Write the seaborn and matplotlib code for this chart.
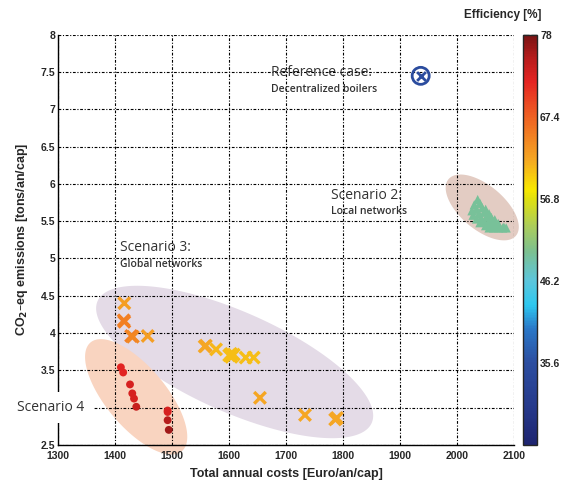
import numpy as np
import pandas as pd
import matplotlib
matplotlib.use('Agg')
import matplotlib.pyplot as plt
import seaborn as sns
from matplotlib.colors import LinearSegmentedColormap, Normalize
from matplotlib.patches import Polygon

# 데이터
ref_cost = [1936]
ref_co2 = [7.45]
ref_eff = [35.0]

s2_cost = [2036, 2030, 2040, 2026, 2034, 2044, 2050, 2028, 2038, 2048, 2056, 2034, 2042,
           2052, 2060, 2066, 2040, 2048, 2056, 2064, 2072, 2050, 2058, 2066, 2074, 2082,
           2056, 2064, 2072, 2080, 2086]
s2_co2 = [5.79, 5.72, 5.74, 5.64, 5.66, 5.68, 5.66, 5.58, 5.60, 5.62, 5.60, 5.53, 5.55,
          5.56, 5.55, 5.52, 5.48, 5.50, 5.50, 5.49, 5.47, 5.44, 5.45, 5.44, 5.43, 5.42,
          5.41, 5.41, 5.41, 5.41, 5.41]
s2_eff = [49.5] * len(s2_cost)

s3_cost = [1416, 1415, 1416, 1428, 1431, 1457, 1557, 1559, 1577, 1600, 1604, 1608, 1603,
           1629, 1643, 1654, 1733, 1786, 1789]
s3_co2 = [4.40, 4.17, 4.15, 3.96, 3.95, 3.96, 3.82, 3.83, 3.78, 3.70, 3.68, 3.71, 3.72,
          3.67, 3.67, 3.13, 2.90, 2.84, 2.86]
s3_eff = [62.5, 65, 65, 65, 64.5, 62.5, 62, 62, 61, 60.5, 60.5, 60.5, 60.5,
          60.5, 60.5, 62, 62, 62, 62]

s4_cost = [1410, 1414, 1426, 1430, 1433, 1437, 1492, 1492, 1492, 1494]
s4_co2 = [3.54, 3.47, 3.31, 3.19, 3.12, 3.01, 2.96, 2.94, 2.83, 2.70]
s4_eff = [72, 72, 73, 73, 73, 74, 73, 73, 75, 76]

eff_min, eff_max = 25, 78
cbar_ticks = [35.6, 46.2, 56.8, 67.4, 78]

x_ticks = [1300, 1400, 1500, 1600, 1700, 1800, 1900, 2000, 2100]
y_ticks = [2.5, 3, 3.5, 4, 4.5, 5, 5.5, 6, 6.5, 7, 7.5, 8]
# '3' 라벨은 Scenario 4 글자에 가려져 안 보임
y_ticklabels = ['2.5', '', '3.5', '4', '4.5', '5', '5.5', '6', '6.5', '7', '7.5', '8']

# 컬러맵 (jet 비슷하게, 조금 탁하게)
stops = [(25, '#1e2470'), (30, '#263a8c'), (35.6, '#2c4ea0'), (40, '#2a78c8'),
         (43, '#2ec8f0'), (46.2, '#5cc6dc'), (50, '#7cc090'), (53, '#a8cc60'),
         (56.8, '#e0e010'), (58, '#f8e800'), (62, '#f5a623'), (67.4, '#ef6223'),
         (72, '#e52422'), (75, '#b81c1c'), (78, '#7a1414')]
cmap = LinearSegmentedColormap.from_list(
    'eff', [((v - eff_min) / (eff_max - eff_min), c) for v, c in stops])
norm = Normalize(eff_min, eff_max)

sns.set_style('white')
plt.rcParams['font.family'] = ['Liberation Sans', 'DejaVu Sans']

fig = plt.figure(figsize=(5.65, 4.84), dpi=100)
ax = fig.add_axes([0.103, 0.081, 0.807, 0.847])
cax = fig.add_axes([0.926, 0.081, 0.025, 0.847])

W = 0.807 * 565
H = 0.847 * 484


def ellipse(cx, cy, a, b, ang, color):
    # 축 비율 좌표에 픽셀 단위 타원
    t = np.linspace(0, 2 * np.pi, 200)
    th = np.deg2rad(ang)
    px = a * np.cos(t) * np.cos(th) - b * np.sin(t) * np.sin(th)
    py = a * np.cos(t) * np.sin(th) + b * np.sin(t) * np.cos(th)
    pts = np.column_stack([cx + px / W, cy + py / H])
    ax.add_patch(Polygon(pts, closed=True, transform=ax.transAxes, facecolor=color,
                         edgecolor='none', zorder=0.3, clip_on=False))


ellipse(0.387, 0.202, 150, 50, -24, '#e4dbe7')
ellipse(0.171, 0.117, 71, 30, -50, '#f9d4c0')
ellipse(0.930, 0.579, 44, 22, -40, '#e3ccc3')

# 시나리오별 산점도
df2 = pd.DataFrame({'cost': s2_cost, 'co2': s2_co2, 'eff': s2_eff})
df3 = pd.DataFrame({'cost': s3_cost, 'co2': s3_co2, 'eff': s3_eff})
df4 = pd.DataFrame({'cost': s4_cost, 'co2': s4_co2, 'eff': s4_eff})
dfr = pd.DataFrame({'cost': ref_cost, 'co2': ref_co2, 'eff': ref_eff})

sns.scatterplot(data=df2, x='cost', y='co2', hue='eff', palette=cmap, hue_norm=norm,
                marker='^', s=45, edgecolor='none', legend=False, ax=ax, zorder=3)
sns.scatterplot(data=df3, x='cost', y='co2', hue='eff', palette=cmap, hue_norm=norm,
                marker='x', s=70, linewidth=2.4, legend=False, ax=ax, zorder=3)
sns.scatterplot(data=df4, x='cost', y='co2', hue='eff', palette=cmap, hue_norm=norm,
                marker='o', s=32, edgecolor='none', legend=False, ax=ax, zorder=3)
ref_col = cmap(norm(ref_eff[0]))
ax.scatter(dfr['cost'], dfr['co2'], s=150, facecolor='none', edgecolor=ref_col,
           linewidth=2, zorder=3)
ax.scatter(dfr['cost'], dfr['co2'], s=40, marker='x', color=ref_col, linewidth=2, zorder=3)

ax.set_xlim(1300, 2100)
ax.set_ylim(2.5, 8)
ax.set_xticks(x_ticks)
ax.set_yticks(y_ticks)
ax.set_yticklabels(y_ticklabels)
ax.tick_params(labelsize=7.5, length=3, width=0.8, direction='in', pad=2)
ax.tick_params(axis='x', pad=4.5)
for lab in ax.get_xticklabels() + ax.get_yticklabels():
    lab.set_fontweight('bold')
ax.grid(True, color='black', linestyle=(0, (2.5, 1.5, 1, 1.5)), linewidth=0.8)
ax.set_axisbelow('line')
for side in ['top', 'right']:
    ax.spines[side].set_visible(False)
for side in ['left', 'bottom']:
    ax.spines[side].set_color('black')
    ax.spines[side].set_linewidth(1)

ax.set_xlabel('Total annual costs [Euro/an/cap]', fontsize=9, fontweight='bold', labelpad=5)
ax.set_ylabel('CO$_\\mathbf{2}$\u2013eq emissions [tons/an/cap]', fontsize=9,
              fontweight='bold', labelpad=8)

# 주석
txt = dict(family=['Open Sans', 'DejaVu Sans'], color='#333333', va='center', ha='left')
ax.text(1673, 7.50, 'Reference case:', fontsize=10, **txt)
ax.text(1673, 7.27, 'Decentralized boilers', fontsize=7.5, fontweight='semibold', **txt)
ax.text(1778, 5.85, 'Scenario 2:', fontsize=10, **txt)
ax.text(1778, 5.63, 'Local networks', fontsize=7.5, fontweight='semibold', **txt)
ax.text(1409, 5.15, 'Scenario 3:', fontsize=10, **txt)
ax.text(1409, 4.92, 'Global networks', fontsize=7.5, fontweight='semibold', **txt)
ax.text(1228, 3.0, 'Scenario 4', fontsize=10, clip_on=False, zorder=5,
        bbox=dict(facecolor='white', edgecolor='none', pad=6), **txt)

# 컬러바
sm = plt.cm.ScalarMappable(norm=norm, cmap=cmap)
cb = fig.colorbar(sm, cax=cax, ticks=cbar_ticks, format='%g')
cb.outline.set_linewidth(1)
cb.ax.tick_params(labelsize=7.5, direction='in', length=4, width=1, left=True, right=True, pad=2)
for lab in cb.ax.get_yticklabels():
    lab.set_fontweight('bold')
fig.text(0.89, 0.968, 'Efficiency [%]', fontsize=8.5, fontweight='bold', ha='center', va='center')

plt.savefig('out.png', dpi=100)
